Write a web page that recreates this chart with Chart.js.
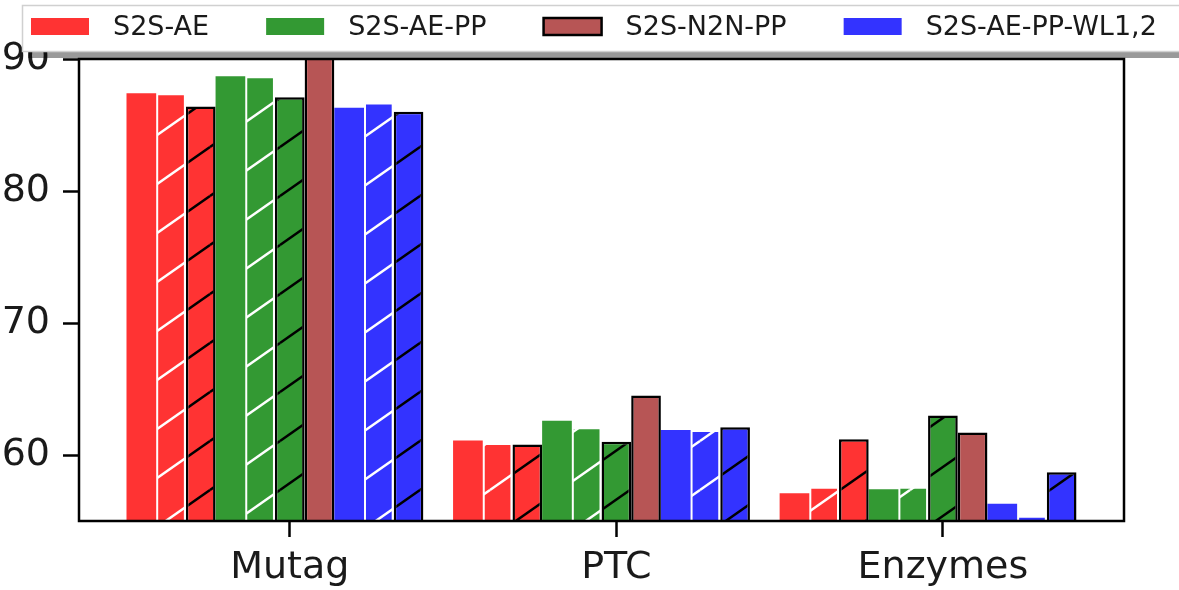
<!DOCTYPE html>
<html>
<head>
<meta charset="utf-8">
<script src="https://cdn.jsdelivr.net/npm/chart.js@4.4.1/dist/chart.umd.min.js"></script>
<style>
  html, body { margin: 0; padding: 0; background: #fff; }
  #wrap { width: 1179px; height: 590px; }
</style>
</head>
<body>
<div id="wrap"><canvas id="resultsChart" width="1179" height="590"></canvas></div>
<script>
// Categories and tick labels
const categories = ['Mutag', 'PTC', 'Enzymes'];
const yTicks = [60, 70, 80, 90];
const legendLabels = ['S2S-AE', 'S2S-AE-PP', 'S2S-N2N-PP', 'S2S-AE-PP-WL1,2'];

// Values per bar (plain / white hatch / black hatch variants)
const aePlain  = [87.4, 61.1, 57.1];
const aeWhite  = [87.4, 60.9, 57.6];
const aeBlack  = [86.4, 60.8, 61.2];
const ppPlain  = [88.7, 62.6, 57.4];
const ppWhite  = [88.7, 62.1, 57.6];
const ppBlack  = [87.1, 61.0, 63.0];
const n2nPP    = [90.3, 64.5, 61.7];
const wlPlain  = [86.3, 61.9, 56.3];
const wlWhite  = [86.7, 61.9, 55.4];
const wlBlack  = [86.0, 62.1, 58.7];

const RED = '#ff3333', GREEN = '#339933', BROWN = '#b75555', BLUE = '#3333ff';
const FONT = '"DejaVu Sans", sans-serif';

// Diagonal '/' hatch pattern on top of a base colour
function hatch(base, line) {
    const W = 70, H = 49;
    const c = document.createElement('canvas');
    c.width = W; c.height = H;
    const g = c.getContext('2d');
    g.fillStyle = base;
    g.fillRect(0, 0, W, H);
    g.strokeStyle = line;
    g.lineWidth = 2.5;
    for (let i = -1; i <= 1; i++) {
        for (let j = -1; j <= 1; j++) {
            g.beginPath();
            g.moveTo(i * W, H + j * H);
            g.lineTo(W + i * W, j * H);
            g.stroke();
        }
    }
    return g.createPattern(c, 'repeat');
}

const nBars = 10;
const barW = 1 / (nBars + 1);
// groups sit half a bar left of the tick, like the matplotlib offsets
const xPos = categories.map((c, i) => i - barW / 2);
const span = (categories.length - 1) + nBars * barW;
const xMin = -5.5 * barW - 0.05 * span;
const xMax = (categories.length - 1) + 4.5 * barW + 0.05 * span;

function ds(label, values, fill, edge, edgeW) {
    return {
        label: label,
        data: values.map((v, i) => ({ x: xPos[i], y: v })),
        backgroundColor: fill,
        borderColor: edge || 'rgba(0,0,0,0)',
        borderWidth: edgeW || 0,
        borderSkipped: false,
        clip: 0
    };
}

const datasets = [
    ds('S2S-AE', aePlain, RED),
    ds('S2S-AE /', aeWhite, hatch(RED, '#fff'), '#fff', 2),
    ds('S2S-AE \\', aeBlack, hatch(RED, '#000'), '#000', 2.5),
    ds('S2S-AE-PP', ppPlain, GREEN),
    ds('S2S-AE-PP /', ppWhite, hatch(GREEN, '#fff'), '#fff', 2),
    ds('S2S-AE-PP \\', ppBlack, hatch(GREEN, '#000'), '#000', 2.5),
    ds('S2S-N2N-PP', n2nPP, BROWN, '#000', 2.5),
    ds('S2S-AE-PP-WL1,2', wlPlain, BLUE),
    ds('S2S-AE-PP-WL1,2 /', wlWhite, hatch(BLUE, '#fff'), '#fff', 2),
    ds('S2S-AE-PP-WL1,2 \\', wlBlack, hatch(BLUE, '#000'), '#000', 2.5)
];

// Frame round the plot (all four spines)
const framePlugin = {
    id: 'frame',
    afterDatasetsDraw(chart) {
        const a = chart.chartArea, ctx = chart.ctx;
        ctx.save();
        ctx.strokeStyle = '#000';
        ctx.lineWidth = 2.5;
        ctx.strokeRect(a.left, a.top, a.right - a.left, a.bottom - a.top);
        ctx.restore();
    }
};

// Legend box with shadow, drawn last so it covers the top tick label
const legendPlugin = {
    id: 'boxLegend',
    afterDraw(chart) {
        const ctx = chart.ctx;
        const colors = [RED, GREEN, BROWN, BLUE];
        ctx.save();
        ctx.fillStyle = 'rgba(0,0,0,0.4)';
        ctx.fillRect(28, 11, 1200, 47);
        ctx.fillStyle = '#fff';
        ctx.fillRect(22, 5, 1200, 47);
        ctx.strokeStyle = '#d0d0d0';
        ctx.lineWidth = 1.5;
        ctx.strokeRect(22.5, 5.5, 1200, 46);
        ctx.font = '27px ' + FONT;
        ctx.textBaseline = 'alphabetic';
        let x = 31;
        legendLabels.forEach((label, i) => {
            ctx.fillStyle = colors[i];
            ctx.fillRect(x, 18, 58, 17);
            if (i === 2) {
                ctx.strokeStyle = '#000';
                ctx.lineWidth = 2.5;
                ctx.strokeRect(x, 18, 58, 17);
            }
            ctx.fillStyle = '#1a1a1a';
            ctx.fillText(label, x + 82, 35);
            x += 82 + ctx.measureText(label).width + 57;
        });
        ctx.restore();
    }
};

const tickGrid = {
    display: true,
    drawOnChartArea: false,
    drawTicks: true,
    offset: false,
    tickLength: 16,
    tickWidth: 2.5,
    tickColor: '#000'
};

const ctx = document.getElementById('resultsChart').getContext('2d');
const resultsChart = new Chart(ctx, {
    type: 'bar',
    data: { datasets: datasets },
    options: {
        responsive: false,
        animation: false,
        devicePixelRatio: 1,
        layout: { padding: { top: 59, right: 55, left: 0, bottom: 0 } },
        datasets: {
            bar: { categoryPercentage: nBars / (nBars + 1), barPercentage: 1 }
        },
        plugins: {
            legend: { display: false },
            tooltip: { enabled: false }
        },
        scales: {
            x: {
                type: 'linear',
                offset: false,
                min: xMin,
                max: xMax,
                afterBuildTicks: s => { s.ticks = categories.map((c, i) => ({ value: i })); },
                afterFit: s => { s.height = 69; },
                ticks: {
                    callback: v => categories[v],
                    autoSkip: false,
                    maxRotation: 0,
                    padding: 8,
                    color: '#1a1a1a',
                    font: { family: FONT, size: 38, lineHeight: 1.2 }
                },
                grid: tickGrid,
                border: { display: false }
            },
            y: {
                min: 55,
                max: 90,
                afterBuildTicks: s => { s.ticks = yTicks.map(v => ({ value: v })); },
                afterFit: s => { s.width = 79; },
                ticks: {
                    padding: 13,
                    color: '#1a1a1a',
                    font: { family: FONT, size: 38 }
                },
                grid: tickGrid,
                border: { display: false }
            }
        }
    },
    plugins: [framePlugin, legendPlugin]
});
</script>
</body>
</html>
